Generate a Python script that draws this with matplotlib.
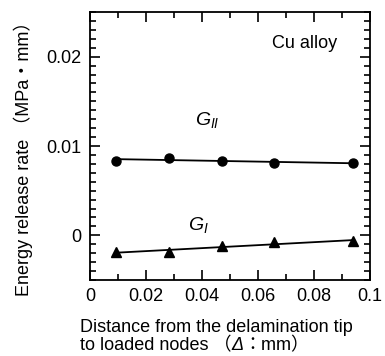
import matplotlib
matplotlib.use("Agg")
import matplotlib.pyplot as plt
import numpy as np
from matplotlib.ticker import MultipleLocator

plt.rcParams['font.family'] = ['Liberation Sans', 'Noto Sans CJK JP', 'DejaVu Sans']
plt.rcParams['mathtext.fontset'] = 'custom'
plt.rcParams['mathtext.it'] = 'Liberation Sans:italic'
plt.rcParams['mathtext.rm'] = 'Liberation Sans'

x_nodes = [0.0094, 0.0283, 0.047, 0.0658, 0.0938]
g2_vals = [0.00837, 0.0087, 0.0083, 0.0081, 0.0081]
g1_vals = [-0.0019, -0.00185, -0.0012, -0.0008, -0.00067]

fig = plt.figure(figsize=(3.85, 3.56), dpi=100)
ax = fig.add_axes([90/385, 1-280/356, 280/385, 268/356])

xs = np.array(x_nodes)
for vals, mk in [(g2_vals, 'o'), (g1_vals, '^')]:
    p = np.polyfit(xs, vals, 1)
    ax.plot([xs[0], xs[-1]], np.polyval(p, [xs[0], xs[-1]]), color='black', lw=1.3)
    ax.plot(xs, vals, linestyle='none', marker=mk, color='black', markersize=6.5)

ax.set_xlim(0, 0.1)
ax.set_ylim(-0.005, 0.025)
ax.xaxis.set_minor_locator(MultipleLocator(0.01))
ax.yaxis.set_minor_locator(MultipleLocator(0.001))
ax.set_xticks([0, 0.02, 0.04, 0.06, 0.08, 0.1])
ax.set_xticklabels(['0', '0.02', '0.04', '0.06', '0.08', '0.1'])
ax.set_yticks([0, 0.01, 0.02])
ax.set_yticklabels(['0', '0.01', '0.02'])
ax.tick_params(which='both', direction='in', top=True, right=True, labelsize=13, width=1.2)
ax.tick_params(which='major', length=7, pad=6)
ax.tick_params(which='minor', length=4)
for s in ax.spines.values():
    s.set_linewidth(1.3)

ax.text(0.882, 0.884, 'Cu alloy', transform=ax.transAxes, ha='right', va='center', fontsize=13)
ax.text(0.0375, 0.0129, r'$\mathit{G}_{\mathit{II}}$', ha='left', va='center', fontsize=14)
ax.text(0.035, 0.0012, r'$\mathit{G}_{\mathit{I}}$', ha='left', va='center', fontsize=14)

ax.set_ylabel('Energy release rate （MPa・mm）', fontsize=13)
ax.yaxis.set_label_coords(-0.205, 0.47)

# x label, two lines, left aligned; the Δ is italic
fig.text(80/385, 1-327/356, 'Distance from the delamination tip', fontsize=13,
         ha='left', va='center')
pieces = [('to loaded nodes （', 'normal'), ('Δ', 'italic'), ('：mm）', 'normal')]
fig.canvas.draw()
renderer = fig.canvas.get_renderer()
xpos = 80
for txt, style in pieces:
    t = fig.text(xpos/385, 1-346/356, txt, fontsize=13, ha='left', va='center', style=style)
    bb = t.get_window_extent(renderer)
    xpos = bb.x1

fig.savefig('out.png', dpi=100)
